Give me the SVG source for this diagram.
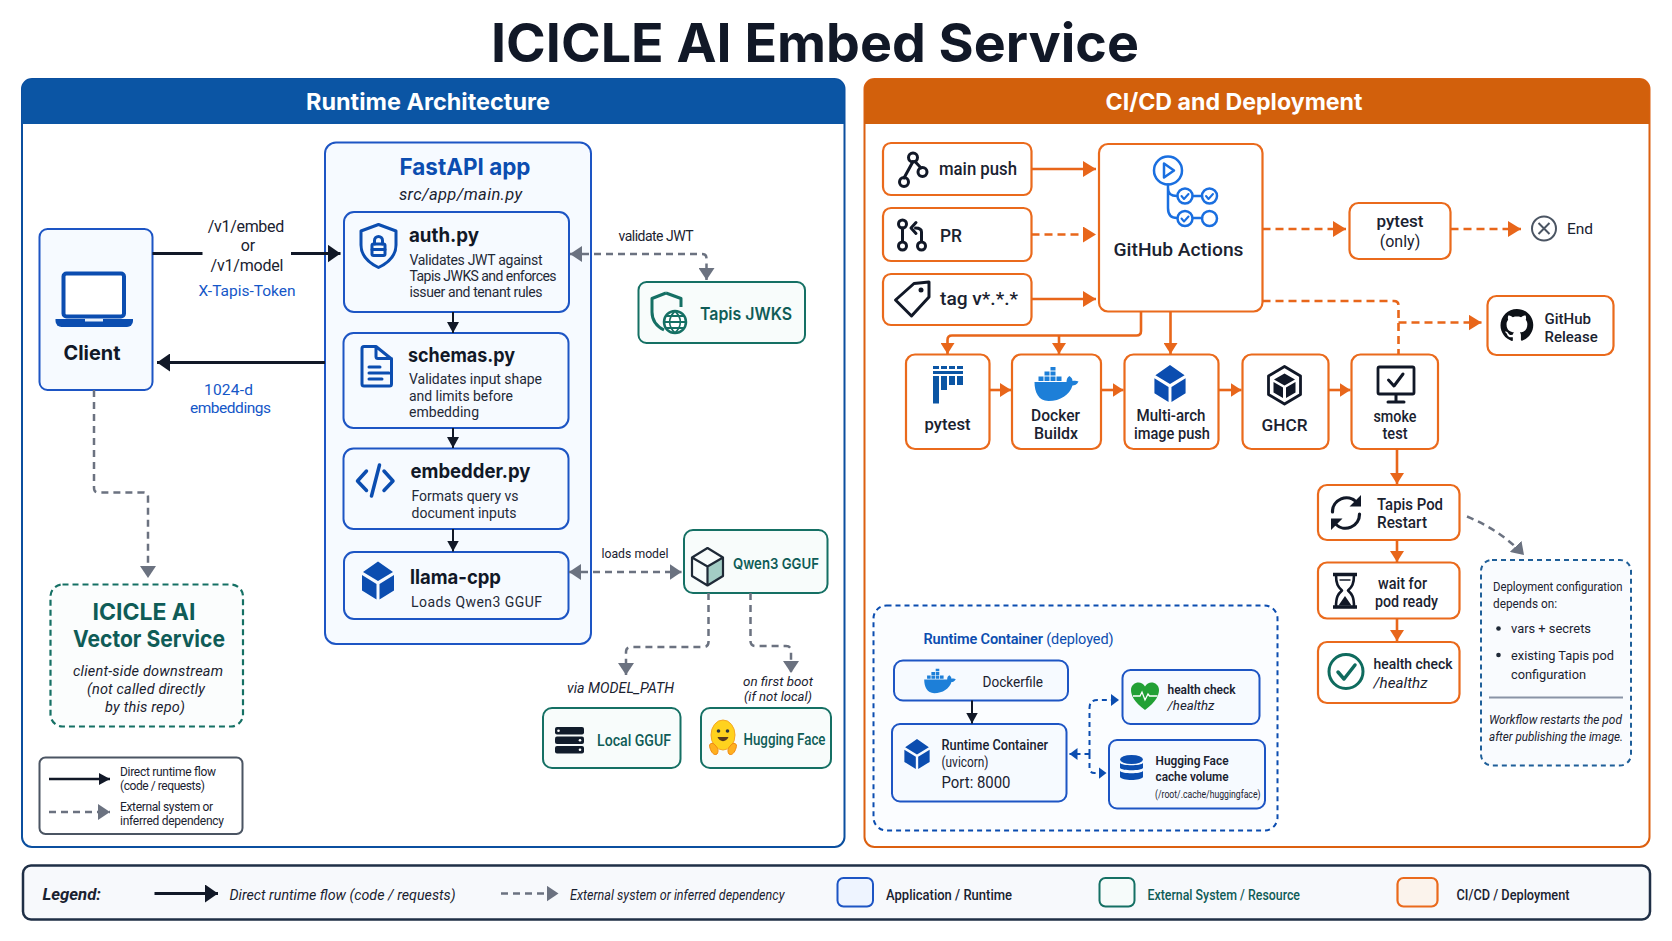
<svg xmlns="http://www.w3.org/2000/svg" width="1672" height="941" viewBox="0 0 1672 941">
<style>
text{font-family:Roboto,"Liberation Sans",sans-serif;fill:#1a2230}
.h{font-family:Inter,"Liberation Sans",sans-serif;font-weight:700}
.n{font-family:Inter,"Liberation Sans",sans-serif;font-weight:700;font-size:20px;fill:#111827}
.d{font-size:14px;fill:#1f2937}
.m{text-anchor:middle}
.i{font-style:italic}
.b{fill:#0b4db0}
.g{fill:#0f5c57}
.w{fill:#fff}
.app{fill:#f6faff;stroke:#1d55c4;stroke-width:2}
.ext{fill:#f8fcfb;stroke:#157064;stroke-width:2}
.ci{fill:#fff;stroke:#ea6a1c;stroke-width:2.2}
.c{fill:none;stroke-linejoin:round}
.dk{stroke:#111827;stroke-width:2}
.dk3{stroke:#111827;stroke-width:3}
.gy{stroke:#6b7280;stroke-width:2.5;stroke-dasharray:7 5}
.or{stroke:#e8661a;stroke-width:2.6}
.ord{stroke:#e8661a;stroke-width:2.6;stroke-dasharray:8 5}
.bl{stroke:#0b4db0;stroke-width:2;stroke-dasharray:5 4}
.ico{fill:none;stroke:#111827;stroke-width:3;stroke-linecap:round;stroke-linejoin:round}
.icb{fill:none;stroke:#0b4db0;stroke-width:3;stroke-linecap:round;stroke-linejoin:round}
.ica{fill:none;stroke:#1a6fe0;stroke-width:2.5;stroke-linecap:round;stroke-linejoin:round}
</style>
<defs>
<marker id="aD" markerUnits="userSpaceOnUse" markerWidth="12" markerHeight="12" refX="11" refY="6" orient="auto-start-reverse"><path d="M0 0L11 6L0 12Z" fill="#111827"/></marker>
<marker id="aL" markerUnits="userSpaceOnUse" markerWidth="14" markerHeight="18" refX="13" refY="9" orient="auto-start-reverse"><path d="M0 0L13 9L0 18Z" fill="#111827"/></marker>
<marker id="aG" markerUnits="userSpaceOnUse" markerWidth="13" markerHeight="16" refX="12" refY="8" orient="auto-start-reverse"><path d="M0 0L12 8L0 16Z" fill="#6b7280"/></marker>
<marker id="aO" markerUnits="userSpaceOnUse" markerWidth="14" markerHeight="16" refX="13" refY="8" orient="auto-start-reverse"><path d="M0 0L13 8L0 16Z" fill="#e8661a"/></marker>
<marker id="aS" markerUnits="userSpaceOnUse" markerWidth="12" markerHeight="14" refX="11" refY="7" orient="auto-start-reverse"><path d="M0 0L11 7L0 14Z" fill="#e8661a"/></marker>
<marker id="aB" markerUnits="userSpaceOnUse" markerWidth="9" markerHeight="12" refX="8" refY="6" orient="auto-start-reverse"><path d="M0 0L8 6L0 12Z" fill="#0b4db0"/></marker>
<symbol id="cube" viewBox="0 0 32 38" overflow="visible"><path fill="#0b4db0" d="M16 0L31 10.5L16 19.5L1 10.5ZM0 13.5L14.5 22.5V38L0 29ZM32 13.5L17.5 22.5V38L32 29Z"/></symbol>
<symbol id="docker" viewBox="0 0 46 34" overflow="visible"><path fill="#1d7fd8" d="M1 15H33c0-3 1-5 3-6c2 1.500 3 3 3 5c2-.5 4-.5 6 .5c-1.500 3-4 4-6 4C36 28 27 34 15 34C5 34 1 25 1 15Z"/><path fill="#1d7fd8" d="M5 9.500h5v4.500h-5zM11 9.500h5v4.500h-5zM17 9.500h5v4.500h-5zM23 9.500h5v4.500h-5zM11 4.500h5v4h-5zM17 4.500h5v4h-5zM17 0h5v3.500h-5z"/></symbol>
</defs>
<rect width="1672" height="941" fill="#fff"/>
<text id="title" class="h m" x="815" y="62" font-size="53" textLength="648" lengthAdjust="spacingAndGlyphs" style="fill:#111827">ICICLE AI Embed Service</text>

<g id="panel-runtime">
<rect x="22" y="79" width="822.500" height="768" rx="10" fill="#fff" stroke="#0b4f9f" stroke-width="2"/>
<path d="M22 124V89a10 10 0 0 1 10-10H834.500a10 10 0 0 1 10 10V124Z" fill="#0b55a4"/>
<text class="h m w" x="428" y="109.500" font-size="23" textLength="244" lengthAdjust="spacingAndGlyphs" style="fill:#fff">Runtime Architecture</text>
</g>
<g id="panel-cicd">
<rect x="864.500" y="79" width="785" height="768" rx="10" fill="#fff" stroke="#dc6010" stroke-width="2"/>
<path d="M864.500 124V89a10 10 0 0 1 10-10H1639.500a10 10 0 0 1 10 10V124Z" fill="#d2600c"/>
<text class="h m" x="1234" y="109.500" font-size="23" textLength="257" lengthAdjust="spacingAndGlyphs" style="fill:#fff">CI/CD and Deployment</text>
</g>

<g id="fastapi">
<rect class="app" x="325" y="142.500" width="266" height="501.500" rx="11"/>
<text class="h m b" x="465" y="174.500" font-size="23" textLength="131" lengthAdjust="spacingAndGlyphs">FastAPI app</text>
<text class="m i" x="460.500" y="200" font-size="16.500" textLength="123">src/app/main.py</text>
</g>

<g id="client">
<rect class="app" x="39.500" y="229" width="113" height="161" rx="8"/>
<rect x="63.500" y="273.500" width="60.500" height="43" rx="3" fill="#fff" stroke="#0b4db0" stroke-width="4"/>
<path d="M55.500 319H133v2a6 6 0 0 1-6 6H61.500a6 6 0 0 1-6-6Z" fill="#0b4db0"/>
<rect x="85" y="319" width="18" height="2.500" fill="#e8f0fb"/>
<text class="h m" x="92" y="360" font-size="20" textLength="57" lengthAdjust="spacingAndGlyphs" style="fill:#111827">Client</text>
</g>

<g id="auth">
<rect class="app" x="344" y="212" width="225" height="100" rx="10"/>
<path class="icb" d="M378.500 224.500l17.500 6.500v14c0 10-7 17.500-17.500 22.500c-10.500-5-17.500-12.500-17.500-22.500v-14Z"/>
<rect x="372" y="244" width="13" height="11.500" rx="1.500" fill="none" stroke="#0b4db0" stroke-width="3"/><path class="icb" d="M374.500 244v-3.500a4 4 0 0 1 8 0V244M372 249.500h13"/>
<text class="n" x="409" y="241.500" textLength="70" lengthAdjust="spacingAndGlyphs">auth.py</text>
<text class="d" x="409.500" y="264.500" textLength="133">Validates JWT against</text>
<text class="d" x="409.500" y="281" textLength="147">Tapis JWKS and enforces</text>
<text class="d" x="409.500" y="297" textLength="133">issuer and tenant rules</text>
</g>
<g id="schemas">
<rect class="app" x="343.500" y="333" width="225" height="95" rx="10"/>
<path class="icb" d="M376 346.500h-12a2 2 0 0 0-2 2v35.500a2 2 0 0 0 2 2h25.500a2 2 0 0 0 2-2v-25ZM376 346.500v10a2 2 0 0 0 2 2h13.500M369 367h11M369 373h20M369 379h13"/>
<text class="n" x="408" y="361.500" textLength="107" lengthAdjust="spacingAndGlyphs">schemas.py</text>
<text class="d" x="409" y="384" textLength="133">Validates input shape</text>
<text class="d" x="409" y="400.500" textLength="104">and limits before</text>
<text class="d" x="409" y="417" textLength="70">embedding</text>
</g>
<g id="embedder">
<rect class="app" x="343.500" y="448.500" width="225" height="80.500" rx="10"/>
<path class="icb" style="stroke-width:3.500" d="M366.500 471L357.500 481L366.500 490.500M384 471L393 481L384 490.500M379.500 465L371.500 496"/>
<text class="n" x="410.500" y="478" textLength="120" lengthAdjust="spacingAndGlyphs">embedder.py</text>
<text class="d" x="411.500" y="501" textLength="107">Formats query vs</text>
<text class="d" x="411.500" y="518" textLength="105">document inputs</text>
</g>
<g id="llama">
<rect class="app" x="344" y="552" width="224.500" height="67" rx="10"/>
<use href="#cube" x="362" y="561.500" width="32" height="38"/>
<text class="n" x="410" y="583.500" textLength="91" lengthAdjust="spacingAndGlyphs">llama-cpp</text>
<text class="d" x="411" y="607" textLength="131">Loads Qwen3 GGUF</text>
</g>

<g id="tapis-jwks">
<rect class="ext" x="638.500" y="282" width="166.500" height="61" rx="8"/>
<path fill="none" stroke="#157064" stroke-width="3" stroke-linejoin="round" d="M666 293L652 298.500V312c0 8 4 14 12 18M666 293L681 298.500V307"/>
<circle cx="675" cy="322" r="11" fill="#fff" stroke="#157064" stroke-width="2.500"/><path fill="none" stroke="#157064" stroke-width="1.800" d="M664 322h22M675 311c-7 7-7 15 0 22M675 311c7 7 7 15 0 22M666 316h18M666 328h18"/>
<text class="h g" x="700" y="320" font-size="17" textLength="92" lengthAdjust="spacingAndGlyphs" style="font-weight:600">Tapis JWKS</text>
</g>
<g id="qwen">
<rect class="ext" x="684" y="530" width="143.500" height="63" rx="9"/>
<path d="M707.500 566.500L723 557V576L707.500 585.500Z" fill="#a3cdc5"/>
<path fill="none" stroke="#1f2a37" stroke-width="2.200" stroke-linejoin="round" d="M707.500 548L723 557.500V576L707.500 585.500L692 576V557.500ZM692 557.500L707.500 566.500L723 557.500M707.500 566.500V585.500"/>
<text class="h g" x="733" y="569" font-size="15" textLength="86" lengthAdjust="spacingAndGlyphs" style="font-weight:600">Qwen3 GGUF</text>
</g>
<g id="local-gguf">
<rect class="ext" x="543" y="708" width="137.500" height="60" rx="9"/>
<rect x="555" y="727" width="29" height="7.500" rx="2" fill="#111c2b"/><rect x="555" y="736.500" width="29" height="7.500" rx="2" fill="#111c2b"/><rect x="555" y="746" width="29" height="7.500" rx="2" fill="#111c2b"/>
<circle cx="558.500" cy="730.750" r="1.300" fill="#fff"/><circle cx="580" cy="740.250" r="1.300" fill="#fff"/><circle cx="580" cy="749.750" r="1.300" fill="#fff"/>
<text class="g" x="597" y="745.500" font-size="16" textLength="74" lengthAdjust="spacingAndGlyphs" style="font-weight:500">Local GGUF</text>
</g>
<g id="hugging-face">
<rect class="ext" x="701" y="708" width="130" height="60" rx="9"/>
<ellipse cx="723" cy="735" rx="12" ry="15" fill="#ffd21e" stroke="#f5a623" stroke-width="1"/>
<circle cx="718.500" cy="731" r="1.800" fill="#2b3440"/><circle cx="727.500" cy="731" r="1.800" fill="#2b3440"/>
<path d="M717.500 737c2 5.500 9 5.500 11 0Z" fill="#5a3a1c"/>
<path d="M710 748c-2-5 3-6 5-3c3 3 4 6 2 9c-3 2-6-2-7-6ZM736 748c2-5-3-6-5-3c-3 3-4 6-2 9c3 2 6-2 7-6Z" fill="#ffb01e" stroke="#f08a12" stroke-width="1"/>
<text class="g" x="743.500" y="745" font-size="16" textLength="82" lengthAdjust="spacingAndGlyphs" style="font-weight:500">Hugging Face</text>
</g>

<g id="vector-service">
<rect x="50.500" y="584.500" width="192.500" height="142" rx="12" fill="#fbfdfd" stroke="#157064" stroke-width="2.200" stroke-dasharray="6 4"/>
<text class="h m g" x="144" y="619.500" font-size="23" textLength="103" lengthAdjust="spacingAndGlyphs">ICICLE AI</text>
<text class="h m g" x="149" y="647" font-size="23" textLength="152" lengthAdjust="spacingAndGlyphs">Vector Service</text>
<text class="m i" x="148" y="676" font-size="14.500" textLength="150">client-side downstream</text>
<text class="m i" x="146" y="694" font-size="14.500" textLength="118">(not called directly</text>
<text class="m i" x="145" y="712" font-size="14.500" textLength="80">by this repo)</text>
</g>
<g id="mini-legend">
<rect x="39.500" y="757.500" width="203" height="76.500" rx="6" fill="#fff" stroke="#4b5563" stroke-width="2"/>
<path class="c dk" style="stroke-width:2.500" d="M49 779H110" marker-end="url(#aD)"/>
<path class="c gy" d="M49 812H110" marker-end="url(#aG)"/>
<text x="120" y="775.500" font-size="12" textLength="96">Direct runtime flow</text>
<text x="120" y="789.500" font-size="12" textLength="85">(code / requests)</text>
<text x="120" y="811" font-size="12" textLength="93">External system or</text>
<text x="120" y="825" font-size="12" textLength="104">inferred dependency</text>
</g>

<g id="main-push">
<rect class="ci" x="883" y="143" width="148.500" height="52" rx="8"/>
<path class="ico" d="M913 161.500L904 178M915 161.500L921 168"/>
<circle class="ico" cx="913" cy="157.500" r="4.500"/><circle class="ico" cx="922.500" cy="172" r="4.500"/><circle class="ico" cx="904" cy="182" r="4.500"/>
<text x="939" y="175" font-size="17.500" textLength="78" lengthAdjust="spacingAndGlyphs" style="font-weight:500">main push</text>
</g>
<g id="pr">
<rect class="ci" x="883" y="208" width="148.500" height="53" rx="8"/>
<path class="ico" d="M902.500 228V241M921.500 241V232c0-3-2-4-6-4M916 222.500L911 228l5 5.500"/>
<circle class="ico" cx="902.500" cy="224" r="4"/><circle class="ico" cx="902.500" cy="246" r="4"/><circle class="ico" cx="921.500" cy="246" r="4"/>
<text x="940" y="241.500" font-size="17.500" textLength="22" lengthAdjust="spacingAndGlyphs" style="font-weight:500">PR</text>
</g>
<g id="tag">
<rect class="ci" x="883" y="274" width="148.500" height="51" rx="8"/>
<path class="ico" d="M929 282L914 283.500L895.500 300L911.500 316L929 297Z"/><circle cx="921" cy="290" r="2.500" fill="#111827"/>
<text x="940" y="305" font-size="17.500" textLength="78" lengthAdjust="spacingAndGlyphs" style="font-weight:500">tag v*.*.*</text>
</g>
<g id="github-actions">
<rect class="ci" x="1099" y="144" width="163.500" height="167.500" rx="9"/>
<circle class="ica" cx="1168" cy="170.500" r="14"/><path class="ica" d="M1164 163.500L1174 170.500L1164 177.500Z"/>
<path class="ica" d="M1168 184.500V208c0 7 3 10 9 10M1168 188c0 6 3 8 9 8M1193 196h9M1193 218h9"/>
<circle class="ica" cx="1185" cy="196" r="7.500"/><circle class="ica" cx="1209.500" cy="196" r="7.500"/><circle class="ica" cx="1185" cy="218.500" r="7.500"/><circle class="ica" cx="1209.500" cy="218.500" r="7.500"/>
<path class="ica" style="stroke-width:2" d="M1181.500 196l2.500 3l4.500-5M1206 196l2.500 3l4.500-5M1181.500 218.500l2.500 3l4.500-5"/>
<text class="m" x="1178.500" y="256" font-size="18" textLength="130" lengthAdjust="spacingAndGlyphs" style="font-weight:500">GitHub Actions</text>
</g>
<g id="pytest-only">
<rect class="ci" x="1349.500" y="203" width="101" height="56" rx="9"/>
<text class="m" x="1400" y="226.500" font-size="17" style="font-weight:500">pytest</text>
<text class="m" x="1400" y="246.500" font-size="16">(only)</text>
</g>
<g id="end">
<circle cx="1544" cy="228.500" r="12" fill="none" stroke="#4b5563" stroke-width="2"/><path d="M1538.500 223l11 11M1549.500 223l-11 11" stroke="#4b5563" stroke-width="2"/>
<text x="1567" y="233.500" font-size="15.500">End</text>
</g>
<g id="github-release">
<rect class="ci" x="1487.500" y="296" width="126" height="59" rx="9"/>
<path transform="translate(1500.500 308.500) scale(1.37)" fill="#0d1117" d="M12 .3C5.400.3 0 5.700 0 12.300c0 5.300 3.400 9.800 8.200 11.400.6.100.8-.3.8-.6v-2.200c-3.300.7-4-1.600-4-1.600-.5-1.400-1.300-1.800-1.300-1.800-1.100-.7.1-.7.1-.7 1.200.1 1.800 1.200 1.800 1.200 1.100 1.800 2.800 1.300 3.500 1 .1-.8.4-1.300.8-1.600-2.700-.3-5.500-1.300-5.500-5.900 0-1.300.5-2.400 1.200-3.200-.1-.3-.5-1.500.1-3.200 0 0 1-.3 3.300 1.200 1-.3 2-.4 3-.4s2 .1 3 .4c2.300-1.600 3.300-1.200 3.300-1.200.7 1.700.2 2.900.1 3.200.8.8 1.200 1.900 1.200 3.200 0 4.600-2.800 5.600-5.500 5.900.4.4.8 1.100.8 2.200v3.300c0 .3.2.7.8.6 4.800-1.600 8.200-6.100 8.200-11.400C24 5.700 18.600.3 12 .3z"/>
<text x="1544.500" y="324" font-size="15" style="font-weight:500">GitHub</text>
<text x="1544.500" y="341.500" font-size="15" style="font-weight:500">Release</text>
</g>
<g id="pytest">
<rect class="ci" x="906" y="354.500" width="83.500" height="94.500" rx="9"/>
<path fill="#0b55a4" d="M933 366h6v3h-6zM941 366h6v3h-6zM949 366h6v3h-6zM957 366h6v3h-6zM933 371h30v3h-30zM933 376h6v27.500h-6zM941 376h6v14h-6zM949 376h6v9h-6zM957 376h6v9h-6z"/>
<text class="m" x="947.500" y="430" font-size="16.500" textLength="46" lengthAdjust="spacingAndGlyphs" style="font-weight:500">pytest</text>
</g>
<g id="buildx">
<rect class="ci" x="1012" y="354.500" width="89" height="94.500" rx="9"/>
<use href="#docker" x="1033.500" y="367" width="46" height="34"/>
<text class="m" x="1055.500" y="420.500" font-size="16.500" textLength="49" lengthAdjust="spacingAndGlyphs" style="font-weight:500">Docker</text>
<text class="m" x="1056" y="438.500" font-size="16.500" textLength="44" lengthAdjust="spacingAndGlyphs" style="font-weight:500">Buildx</text>
</g>
<g id="multi-arch">
<rect class="ci" x="1124.500" y="354.500" width="94" height="94.500" rx="9"/>
<use href="#cube" x="1154" y="365" width="32" height="37"/>
<text class="m" x="1171" y="420.500" font-size="16.500" textLength="69" lengthAdjust="spacingAndGlyphs" style="font-weight:500">Multi-arch</text>
<text class="m" x="1172" y="439" font-size="16.500" textLength="76" lengthAdjust="spacingAndGlyphs" style="font-weight:500">image push</text>
</g>
<g id="ghcr">
<rect class="ci" x="1242.500" y="354.500" width="86" height="94.500" rx="9"/>
<path fill="none" stroke="#111827" stroke-width="2.800" stroke-linejoin="round" d="M1284.500 366.500L1300.500 376V394.500L1284.500 404L1268.500 394.500V376Z"/>
<path fill="#111827" d="M1284.500 373.500L1295 379.500L1284.500 385.500L1274 379.500ZM1273.500 382L1283 387.500V398L1273.500 392.500ZM1295.500 382L1286 387.500V398L1295.500 392.500Z"/>
<text class="m" x="1284.500" y="430.500" font-size="17" textLength="46" lengthAdjust="spacingAndGlyphs" style="font-weight:500">GHCR</text>
</g>
<g id="smoke">
<rect class="ci" x="1351.500" y="354.500" width="86.500" height="94.500" rx="9"/>
<rect x="1378" y="367" width="36" height="27" rx="1.500" fill="none" stroke="#111827" stroke-width="2.800"/>
<path class="ico" d="M1388.500 380l5.500 6l9-12M1396 395v6M1388 402h16"/>
<text class="m" x="1395" y="421.500" font-size="16.500" textLength="43" lengthAdjust="spacingAndGlyphs" style="font-weight:500">smoke</text>
<text class="m" x="1395" y="438.500" font-size="16.500" textLength="25" lengthAdjust="spacingAndGlyphs" style="font-weight:500">test</text>
</g>
<g id="tapis-restart">
<rect class="ci" x="1318" y="485" width="141.500" height="55" rx="9"/>
<path class="ico" style="stroke-width:3.200" d="M1332.500 512a14 14 0 0 1 24-10M1359.500 514a14 14 0 0 1-24 10"/>
<path fill="#111827" d="M1361 495v11.500h-11.500ZM1331 530v-11.500h11.500Z"/>
<text x="1377" y="509.500" font-size="16" textLength="66" lengthAdjust="spacingAndGlyphs" style="font-weight:500">Tapis Pod</text>
<text x="1377" y="528" font-size="16" textLength="50" lengthAdjust="spacingAndGlyphs" style="font-weight:500">Restart</text>
</g>
<g id="wait">
<rect class="ci" x="1318" y="562.500" width="141.500" height="56" rx="9"/>
<path d="M1333 574.500H1357M1333 607H1357" stroke="#111827" stroke-width="3.500" fill="none"/>
<path class="ico" style="stroke-width:2.600" d="M1336 575c0 9 2 12 6 15.500c-4 3.500-6 6.500-6 16.500M1354 575c0 9-2 12-6 15.500c4 3.500 6 6.500 6 16.500"/>
<path d="M1345 596l6.500 9.500H1338.500Z" fill="#111827"/><path d="M1339.500 580h11" stroke="#111827" stroke-width="1.500"/>
<text x="1378" y="589" font-size="16" textLength="49" lengthAdjust="spacingAndGlyphs" style="font-weight:500">wait for</text>
<text x="1375" y="607" font-size="16" textLength="63" lengthAdjust="spacingAndGlyphs" style="font-weight:500">pod ready</text>
</g>
<g id="health">
<rect class="ci" x="1318" y="642" width="141.500" height="61" rx="9"/>
<circle cx="1346" cy="671.500" r="17" fill="none" stroke="#0f6b5e" stroke-width="3"/>
<path d="M1338 672l6 7l11-14" fill="none" stroke="#0f6b5e" stroke-width="3.500" stroke-linecap="round" stroke-linejoin="round"/>
<text x="1373.500" y="669" font-size="15.500" textLength="79" lengthAdjust="spacingAndGlyphs" style="font-weight:500">health check</text>
<text class="i" x="1373.500" y="687.500" font-size="15.500" textLength="54" lengthAdjust="spacingAndGlyphs">/healthz</text>
</g>
<g id="deploy-config">
<rect x="1481" y="560" width="150" height="205.500" rx="11" fill="#f9fbfe" stroke="#1f5f99" stroke-width="2" stroke-dasharray="5 4"/>
<text x="1493" y="590.500" font-size="13" textLength="129.500" lengthAdjust="spacingAndGlyphs">Deployment configuration</text>
<text x="1493" y="607.500" font-size="13" textLength="64" lengthAdjust="spacingAndGlyphs">depends on:</text>
<circle cx="1498.500" cy="628.500" r="2.300" fill="#1f2937"/><text x="1511" y="633" font-size="13.500" textLength="80" lengthAdjust="spacingAndGlyphs">vars + secrets</text>
<circle cx="1498.500" cy="655" r="2.300" fill="#1f2937"/><text x="1511" y="660" font-size="13.500" textLength="103" lengthAdjust="spacingAndGlyphs">existing Tapis pod</text>
<text x="1511" y="678.500" font-size="13.500" textLength="75" lengthAdjust="spacingAndGlyphs">configuration</text>
<path d="M1489 697.500H1623" stroke="#8a94a6" stroke-width="2"/>
<text class="i" x="1489" y="724" font-size="13" textLength="133" lengthAdjust="spacingAndGlyphs">Workflow restarts the pod</text>
<text class="i" x="1489" y="741" font-size="13" textLength="134" lengthAdjust="spacingAndGlyphs">after publishing the image.</text>
</g>
<g id="runtime-deployed">
<rect x="873.500" y="605.500" width="404" height="225" rx="13" fill="#fbfdff" stroke="#0b4db0" stroke-width="2" stroke-dasharray="5 4"/>
<text x="923.500" y="643.500" font-size="14.500" class="b" textLength="190"><tspan style="font-weight:600">Runtime Container</tspan> <tspan>(deployed)</tspan></text>
</g>
<g id="dockerfile">
<rect class="app" x="894" y="660.500" width="174" height="40" rx="9"/>
<use href="#docker" x="923.500" y="668" width="33" height="26"/>
<text x="982.500" y="686.500" font-size="14.500" textLength="60.500" lengthAdjust="spacingAndGlyphs">Dockerfile</text>
</g>
<g id="runtime-container">
<rect class="app" x="892" y="724" width="174.500" height="77.500" rx="8"/>
<use href="#cube" x="904" y="739" width="26" height="30"/>
<text x="941.500" y="750" font-size="14" textLength="106.500" lengthAdjust="spacingAndGlyphs" style="font-weight:500">Runtime Container</text>
<text x="941.500" y="766.500" font-size="14" textLength="47" lengthAdjust="spacingAndGlyphs">(uvicorn)</text>
<text x="941.500" y="787.500" font-size="16" textLength="69" lengthAdjust="spacingAndGlyphs">Port: 8000</text>
</g>
<g id="health-small">
<rect class="app" x="1122.500" y="670" width="137" height="54" rx="8"/>
<path d="M1145 710C1134 702 1131 695 1131 690C1131 685 1135 682.500 1138.500 682.500C1141 682.500 1143.500 684 1145 686.500C1146.500 684 1149 682.500 1151.500 682.500C1155 682.500 1159 685 1159 690C1159 695 1156 702 1145 710Z" fill="#22a035"/>
<path d="M1133 696h7l2-4l3 8l3-6l1.500 2h8" fill="none" stroke="#fff" stroke-width="1.300"/>
<text x="1167.500" y="694" font-size="13" textLength="68" lengthAdjust="spacingAndGlyphs" style="font-weight:600">health check</text>
<text class="i" x="1167.500" y="710" font-size="13.500" textLength="47" lengthAdjust="spacingAndGlyphs">/healthz</text>
</g>
<g id="hf-cache">
<rect class="app" x="1109" y="740" width="156" height="68.500" rx="8"/>
<ellipse cx="1131.500" cy="759.500" rx="11.500" ry="4.500" fill="#0b4db0"/>
<path d="M1120 763c2 3 21 3 23 0v5c-2 3-21 3-23 0ZM1120 771c2 3 21 3 23 0v6c-2 4-21 4-23 0Z" fill="#0b4db0"/>
<text x="1155.500" y="764.500" font-size="13" textLength="73" lengthAdjust="spacingAndGlyphs" style="font-weight:600">Hugging Face</text>
<text x="1155.500" y="780.500" font-size="13" textLength="73" lengthAdjust="spacingAndGlyphs" style="font-weight:600">cache volume</text>
<text x="1155" y="797.500" font-size="10.500" textLength="105.500" lengthAdjust="spacingAndGlyphs">(/root/.cache/huggingface)</text>
</g>

<g id="connectors">
<path class="c dk3" d="M152.500 253.500H202.500M291 253.500H340.500" marker-end="url(#aL)"/>
<path class="c dk3" d="M325 362.500H157" marker-end="url(#aL)"/>
<path class="c dk" d="M453 312V333" marker-end="url(#aD)"/>
<path class="c dk" d="M453 428V448" marker-end="url(#aD)"/>
<path class="c dk" d="M453 529V551.500" marker-end="url(#aD)"/>
<path class="c gy" d="M94 390V488q0 4.500 4.500 4.500H143.500q4.500 0 4.500 4.500V578" marker-end="url(#aG)"/>
<path class="c gy" d="M570 254H702q4.500 0 4.500 4.500V280" marker-start="url(#aG)" marker-end="url(#aG)"/>
<path class="c gy" d="M569 572H681.500" marker-start="url(#aG)" marker-end="url(#aG)"/>
<path class="c gy" d="M708.500 593V642q0 5-5 5H631q-5 0-5 5V675" marker-end="url(#aG)"/>
<path class="c gy" d="M750.500 593V641q0 5 5 5H786q5 0 5 5V673" marker-end="url(#aG)"/>
<path class="c or" d="M1031.500 169H1096" marker-end="url(#aO)"/>
<path class="c ord" d="M1031.500 234.500H1096" marker-end="url(#aO)"/>
<path class="c or" d="M1031.500 299H1096" marker-end="url(#aO)"/>
<path class="c ord" d="M1262.500 229H1346" marker-end="url(#aO)"/>
<path class="c ord" d="M1450.500 229H1521" marker-end="url(#aO)"/>
<path class="c ord" d="M1262.500 301H1394q4.500 0 4.500 4.500V354" />
<path class="c ord" d="M1398.500 322.500H1481.500" marker-end="url(#aO)"/>
<path class="c or" d="M1141 311.500V331q0 4.500-4.500 4.500H952q-4.500 0-4.500 4.500V354" marker-end="url(#aS)"/>
<path class="c or" d="M1059 335.500V354" marker-end="url(#aS)"/>
<path class="c or" d="M1170.500 311.500V354" marker-end="url(#aS)"/>
<path class="c or" d="M989.500 390H1011" marker-end="url(#aS)"/>
<path class="c or" d="M1101 390H1123.500" marker-end="url(#aS)"/>
<path class="c or" d="M1218.500 390H1241.500" marker-end="url(#aS)"/>
<path class="c or" d="M1328.500 390H1350.500" marker-end="url(#aS)"/>
<path class="c or" d="M1397 449V484" marker-end="url(#aS)"/>
<path class="c or" d="M1397 540V562" marker-end="url(#aS)"/>
<path class="c or" d="M1397 618.500V641" marker-end="url(#aS)"/>
<path class="c gy" d="M1467 516.500Q1500 530 1524 555" marker-end="url(#aG)"/>
<path class="c dk" d="M972 700.500V723.500" marker-end="url(#aD)"/>
<path class="c bl" d="M1089.500 754H1069.500" marker-end="url(#aB)"/>
<path class="c bl" d="M1089.500 754V708q0-8 8-8H1119" marker-end="url(#aB)"/>
<path class="c bl" d="M1089.500 754V768q0 5 5 5H1106.500" marker-end="url(#aB)"/>
<text class="m" x="246" y="232" font-size="16" textLength="76.500">/v1/embed</text>
<text class="m" x="248" y="251" font-size="16">or</text>
<text class="m" x="247" y="270.500" font-size="16" textLength="73">/v1/model</text>
<text class="m" x="247" y="296" font-size="15.500" textLength="97" style="fill:#1557c8">X-Tapis-Token</text>
<text class="m" x="228.500" y="395" font-size="15.500" textLength="49" style="fill:#1557c8">1024-d</text>
<text class="m" x="230.500" y="413" font-size="15.500" textLength="81" style="fill:#1557c8">embeddings</text>
<text class="m" x="656" y="240.500" font-size="14" textLength="75">validate JWT</text>
<text class="m" x="635" y="558" font-size="13.500" textLength="67" lengthAdjust="spacingAndGlyphs">loads model</text>
<text class="m i" x="620.500" y="693" font-size="14" textLength="107" lengthAdjust="spacingAndGlyphs">via MODEL_PATH</text>
<text class="m i" x="778" y="686" font-size="13.500" textLength="70" lengthAdjust="spacingAndGlyphs">on first boot</text>
<text class="m i" x="778" y="701" font-size="13.500" textLength="68" lengthAdjust="spacingAndGlyphs">(if not local)</text>
</g>

<g id="legend">
<rect x="23" y="865.500" width="1627" height="54" rx="8" fill="#f7f9fc" stroke="#1f2f46" stroke-width="2.500"/>
<text class="i" x="42.500" y="900" font-size="17" textLength="58.500" lengthAdjust="spacingAndGlyphs" style="font-weight:700">Legend:</text>
<path class="c dk3" d="M154.500 893.500H218" marker-end="url(#aL)"/>
<text class="i" x="229.500" y="899.500" font-size="15" textLength="226" lengthAdjust="spacingAndGlyphs">Direct runtime flow (code / requests)</text>
<path class="c gy" d="M501 893.500H558.500" marker-end="url(#aG)"/>
<text class="i" x="570" y="899.500" font-size="15" textLength="214.500" lengthAdjust="spacingAndGlyphs">External system or inferred dependency</text>
<rect class="app" x="837.500" y="878" width="35.500" height="28.500" rx="6" style="fill:#eef4ff"/>
<text x="886" y="899.500" font-size="15" textLength="126" lengthAdjust="spacingAndGlyphs" style="font-weight:500">Application / Runtime</text>
<rect class="ext" x="1099.500" y="878" width="35" height="28.500" rx="6" style="fill:#f6fbfa"/>
<text class="g" x="1147.500" y="899.500" font-size="15" textLength="152.500" lengthAdjust="spacingAndGlyphs" style="font-weight:500">External System / Resource</text>
<rect class="ci" x="1397.500" y="878" width="40" height="28.500" rx="6" style="fill:#fbf3ec"/>
<text x="1456.500" y="899.500" font-size="15" textLength="113" lengthAdjust="spacingAndGlyphs" style="font-weight:500">CI/CD / Deployment</text>
</g>
</svg>
